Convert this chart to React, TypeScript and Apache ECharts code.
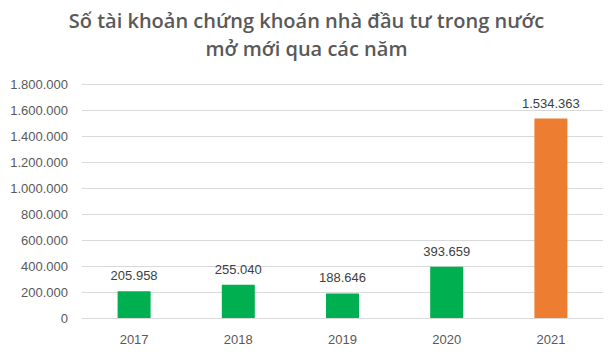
import React, { useEffect, useRef } from "react";
import * as echarts from "echarts";

const categories = ["2017", "2018", "2019", "2020", "2021"];
const values = [205958, 255040, 188646, 393659, 1534363];
const barColors = ["#00B050", "#00B050", "#00B050", "#00B050", "#ED7D31"];
const titleText = "Số tài khoản chứng khoán nhà đầu tư trong nước\nmở mới qua các năm";

const fmt = (v: number) => String(Math.round(v)).replace(/\B(?=(\d{3})+(?!\d))/g, ".");

export default function App() {
  const ref = useRef<HTMLDivElement>(null);
  useEffect(() => {
    document.body.style.margin = "0";
    const chart = echarts.init(ref.current!, null, { renderer: "svg" });
    chart.setOption({
      animation: false,
      backgroundColor: "#ffffff",
      title: {
        text: titleText,
        left: "center",
        top: 1,
        textStyle: {
          fontFamily: "Open Sans",
          fontSize: 20,
          fontWeight: 600,
          color: "#595959",
          lineHeight: 28,
        },
      },
      grid: { left: 82, right: 10, top: 84, bottom: 41, containLabel: false },
      xAxis: {
        type: "category",
        data: categories,
        axisLine: { show: true, lineStyle: { color: "#d9d9d9" } },
        axisTick: { show: false },
        axisLabel: { color: "#595959", fontSize: 13, fontFamily: "Liberation Sans", margin: 15 },
      },
      yAxis: {
        type: "value",
        min: 0,
        max: 1800000,
        interval: 200000,
        axisLine: { show: false },
        axisTick: { show: false },
        splitLine: { lineStyle: { color: "#d9d9d9" } },
        axisLabel: {
          color: "#595959",
          fontSize: 13,
          fontFamily: "Liberation Sans",
          margin: 14,
          formatter: (v: number) => fmt(v),
        },
      },
      series: [
        {
          type: "bar",
          barWidth: 33,
          data: values.map((v, i) => ({ value: v, itemStyle: { color: barColors[i] } })),
          label: {
            show: true,
            position: "top",
            distance: 9,
            color: "#404040",
            fontSize: 13,
            fontFamily: "Liberation Sans",
            formatter: (p: any) => fmt(p.value),
          },
        },
      ],
    });
    return () => chart.dispose();
  }, []);
  return <div ref={ref} style={{ width: 613, height: 359 }} />;
}
